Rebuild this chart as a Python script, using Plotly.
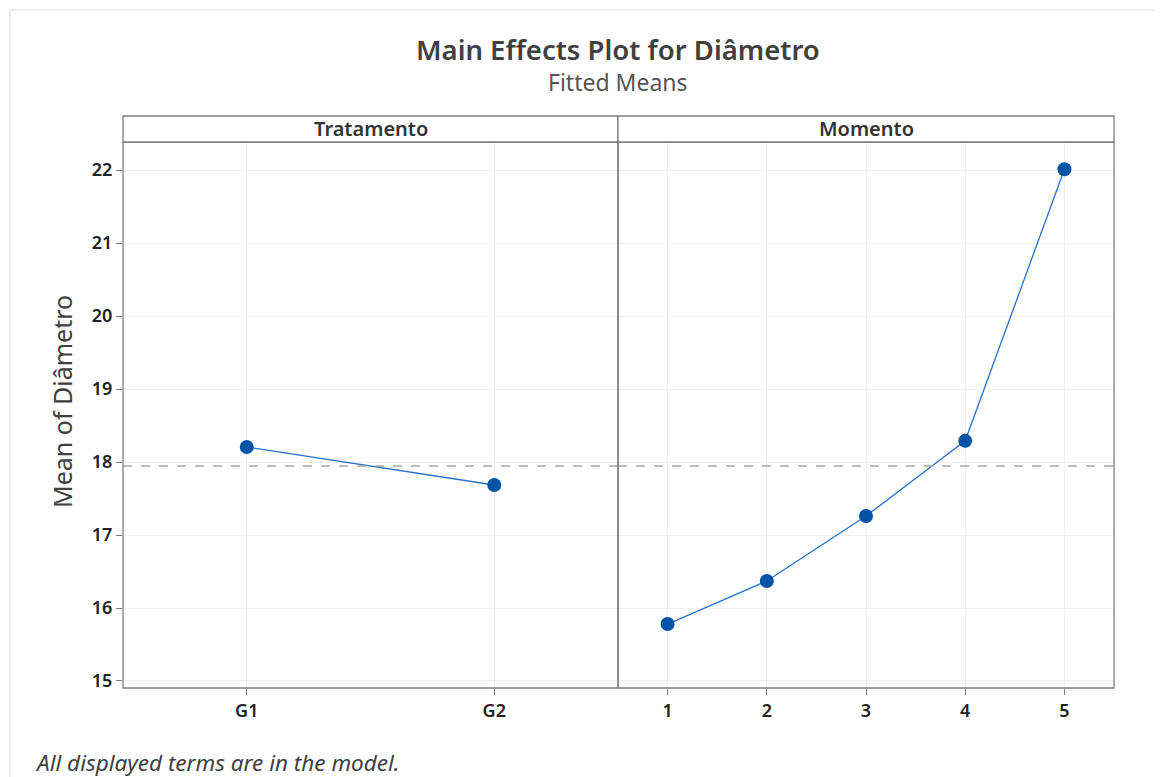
import plotly.graph_objects as go

# ---- data ----
trat_levels = ["G1", "G2"]
trat_means = [18.205, 17.685]
mom_levels = [1, 2, 3, 4, 5]
mom_means = [15.78, 16.37, 17.26, 18.29, 22.01]
grand_mean = 17.945
y_ticks = [15, 16, 17, 18, 19, 20, 21, 22]

OFF = 8  # page body margin
W, H = 1162 - OFF, 777 - OFF
# reference page coordinates
L, R, T, B = 123, 1114, 116, 688
HDR = 142
DIV = 618

def px(x):
    return (x - L) / (R - L)

def py(y):
    return (B - y) / (B - T)

dom_top = py(HDR)
split = px(DIV)

MARK = "#0054A6"
LINE = "#2672C6"
AXC = "#7f7f7f"
GRID = "#f0f0f0"
FONT = "Noto Sans"

fig = go.Figure()
fig.add_trace(go.Scatter(x=list(range(len(trat_levels))), y=trat_means, mode="lines+markers",
                         line=dict(color=LINE, width=1.3), marker=dict(color=MARK, size=14),
                         xaxis="x", yaxis="y", showlegend=False))
fig.add_trace(go.Scatter(x=mom_levels, y=mom_means, mode="lines+markers",
                         line=dict(color=LINE, width=1.3), marker=dict(color=MARK, size=14),
                         xaxis="x2", yaxis="y2", showlegend=False))

yr = [14.904, 22.384]
tickfont = dict(family=FONT, size=18, color="#222222", weight=600)
common_y = dict(range=yr, tickvals=y_ticks, showgrid=True, gridcolor=GRID, gridwidth=1,
                zeroline=False, showline=False)
fig.update_layout(
    width=W, height=H,
    margin=dict(l=L - OFF, r=1162 - R, t=T - OFF, b=777 - B),
    paper_bgcolor="white", plot_bgcolor="white",
    xaxis=dict(domain=[0, split], range=[-0.5, 1.5], tickvals=[0, 1], ticktext=trat_levels,
               showgrid=True, gridcolor=GRID, zeroline=False, ticks="outside", ticklen=6,
               tickcolor=AXC, tickfont=tickfont, anchor="y", showline=False),
    yaxis=dict(domain=[0, dom_top], ticks="outside", ticklen=6, tickcolor=AXC,
               tickfont=tickfont, anchor="x", **common_y),
    xaxis2=dict(domain=[split, 1], range=[0.5, 5.5], tickvals=mom_levels,
                showgrid=True, gridcolor=GRID, zeroline=False, ticks="outside", ticklen=6,
                tickcolor=AXC, tickfont=tickfont, anchor="y2", showline=False),
    yaxis2=dict(domain=[0, dom_top], anchor="x2", matches="y", showticklabels=False, **common_y),
)

# reference lines (grand mean)
fig.add_shape(type="line", xref="x domain", yref="y", x0=0, x1=1, y0=grand_mean, y1=grand_mean,
              line=dict(color="#a6a6a6", width=1.5, dash="dash"))
fig.add_shape(type="line", xref="x2 domain", yref="y2", x0=0, x1=1, y0=grand_mean, y1=grand_mean,
              line=dict(color="#a6a6a6", width=1.5, dash="dash"))

# panel boxes and header strips
for x0, x1 in [(0, split), (split, 1)]:
    fig.add_shape(type="rect", xref="paper", yref="paper", x0=x0, x1=x1, y0=0, y1=dom_top,
                  line=dict(color=AXC, width=1.3), fillcolor="rgba(0,0,0,0)", layer="above")
    fig.add_shape(type="rect", xref="paper", yref="paper", x0=x0, x1=x1, y0=dom_top, y1=1,
                  line=dict(color=AXC, width=1.3), fillcolor="white", layer="above")

# outer frame
fig.add_shape(type="rect", xref="paper", yref="paper", x0=px(10), x1=px(1200), y0=py(800), y1=py(10),
              line=dict(color="#d9d9d9", width=1), fillcolor="rgba(0,0,0,0)", layer="below")

ann = [
    dict(text="Tratamento", x=split / 2, y=(dom_top + 1) / 2),
    dict(text="Momento", x=(split + 1) / 2, y=(dom_top + 1) / 2),
]
for a in ann:
    fig.add_annotation(text=a["text"], x=a["x"], y=a["y"], xref="paper", yref="paper",
                       showarrow=False, xanchor="center", yanchor="middle",
                       font=dict(family=FONT, size=20, color="#333333", weight=600))

fig.add_annotation(text="Main Effects Plot for Diâmetro", x=px(618), y=py(50), xref="paper", yref="paper",
                   showarrow=False, xanchor="center", yanchor="middle",
                   font=dict(family=FONT, size=27.5, color="#404040", weight=600))
fig.add_annotation(text="Fitted Means", x=px(618), y=py(82), xref="paper", yref="paper",
                   showarrow=False, xanchor="center", yanchor="middle",
                   font=dict(family=FONT, size=23, color="#555555"))
fig.add_annotation(text="Mean of Diâmetro", x=px(62), y=py(402), xref="paper", yref="paper",
                   showarrow=False, xanchor="center", yanchor="middle", textangle=-90,
                   font=dict(family=FONT, size=25, color="#404040"))
fig.add_annotation(text="<i>All displayed terms are in the model.</i>", x=px(33), y=py(762),
                   xref="paper", yref="paper", showarrow=False, xanchor="left", yanchor="middle",
                   font=dict(family=FONT, size=22.5, color="#404040"))

fig.write_html("out.html")
